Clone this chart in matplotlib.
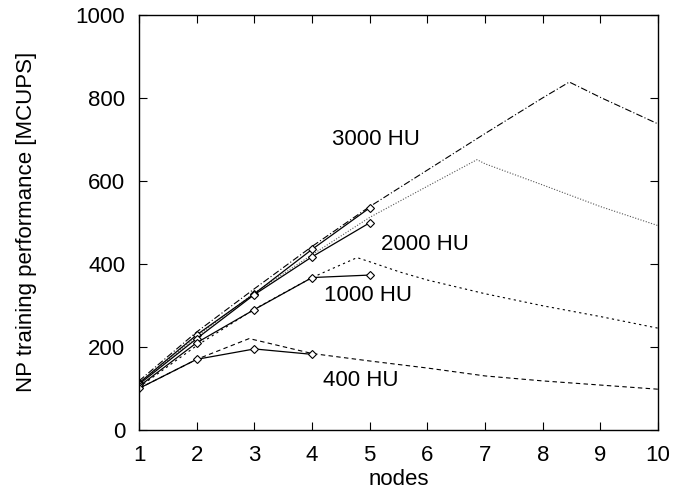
import matplotlib

matplotlib.use("Agg")
import matplotlib.pyplot as plt

plt.rcParams["font.family"] = ["Liberation Sans", "DejaVu Sans"]

# measured points (solid lines, diamonds)
nodes_measured = [1, 2, 3, 4, 5]
measured_3000 = [113, 229, 328, 435, 535]
measured_2000 = [110, 220, 326, 417, 499]
measured_1000 = [105, 210, 290, 367, 373]
nodes_measured_400 = [1, 2, 3, 4]
measured_400 = [100, 170, 195, 182]

# model curves
model_3000_x = [1, 2, 3, 4, 5, 6, 7, 8, 8.46, 9, 10]
model_3000_y = [118, 236, 340, 442, 538, 626, 714, 800, 838, 801, 737]
model_2000_x = [1, 2, 3, 4, 5, 6, 6.86, 7, 8, 9, 10]
model_2000_y = [112, 225, 330, 422, 512, 587, 651, 641, 590, 538, 492]
model_1000_x = [1, 2, 3, 4, 4.78, 5, 5.53, 6, 7, 8, 9, 10]
model_1000_y = [103, 203, 291, 367, 415, 405, 380, 361, 328, 299, 273, 245]
model_400_x = [1, 2, 2.91, 4, 5, 6, 7, 8, 9, 10]
model_400_y = [100, 170, 220, 184, 166, 149, 130, 118, 108, 98]

labels = ["3000 HU", "2000 HU", "1000 HU", "400 HU"]
label_x = [4.35, 5.2, 4.21, 4.19]
label_y = [700, 446, 323, 120]

fig = plt.figure(figsize=(6.75, 4.93), dpi=100)
ax = fig.add_axes([0.206, 0.128, 0.769, 0.842])

model_kw = dict(color="black", linewidth=0.8)
ax.plot(model_3000_x, model_3000_y, dashes=(6, 2, 1, 2), **model_kw)
ax.plot(model_2000_x, model_2000_y, dashes=(1, 1.5), color="#555555", linewidth=0.8)
ax.plot(model_1000_x, model_1000_y, dashes=(2, 3), **model_kw)
ax.plot(model_400_x, model_400_y, dashes=(4, 3), **model_kw)

meas_kw = dict(color="black", linewidth=0.9, marker="D", markersize=4.5,
               markerfacecolor="white", markeredgecolor="black", markeredgewidth=0.8)
ax.plot(nodes_measured, measured_3000, **meas_kw)
ax.plot(nodes_measured, measured_2000, **meas_kw)
ax.plot(nodes_measured, measured_1000, **meas_kw)
ax.plot(nodes_measured_400, measured_400, **meas_kw)

for text, x, y in zip(labels, label_x, label_y):
    ax.text(x, y, text, fontsize=16, va="center", ha="left")

ax.set_xlim(1, 10)
ax.set_ylim(0, 1000)
ax.set_xticks(range(1, 11))
ax.set_yticks(range(0, 1001, 200))
ax.tick_params(direction="in", top=True, right=True, length=6, width=0.8, labelsize=16)
ax.tick_params(axis="x", pad=11)
ax.tick_params(axis="y", pad=10)
for spine in ax.spines.values():
    spine.set_linewidth(1.0)
ax.set_xlabel("nodes", fontsize=16, labelpad=2)
ax.set_ylabel("NP training performance [MCUPS]", fontsize=16, labelpad=28)

fig.savefig("out.png", dpi=100)
